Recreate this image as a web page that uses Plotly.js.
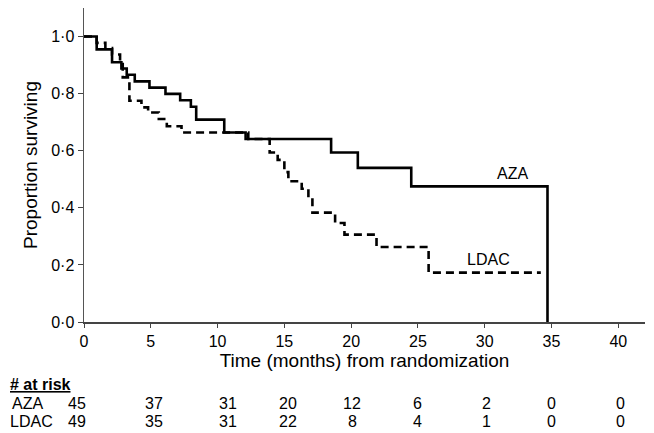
<!DOCTYPE html>
<html>
<head>
<meta charset="utf-8">
<script src="https://cdn.plot.ly/plotly-3.0.1.min.js"></script>
<style>html,body{margin:0;padding:0;background:#fff;}#chart{width:654px;height:433px;}</style>
</head>
<body>
<div id="chart"></div>
<script>
// Kaplan-Meier step data
const azaTime = [0, 0.95, 2.1, 2.8, 3.2, 3.8, 4.9, 6.1, 7.2, 8.0, 8.4, 10.5, 12.1, 18.5, 20.5, 24.5, 34.7, 34.7];
const azaSurv = [1.0, 0.955, 0.91, 0.888, 0.866, 0.843, 0.821, 0.799, 0.777, 0.754, 0.709, 0.664, 0.641, 0.594, 0.54, 0.475, 0.475, 0.0];
const ldacTime = [0, 0.95, 1.6, 2.1, 2.7, 2.9, 3.4, 4.3, 4.8, 5.6, 6.2, 7.3, 12.3, 13.9, 14.5, 15.0, 15.3, 16.3, 16.8, 17.1, 18.8, 19.5, 21.9, 25.8, 34.2];
const ldacSurv = [1.0, 0.978, 0.96, 0.937, 0.915, 0.857, 0.775, 0.752, 0.734, 0.711, 0.686, 0.664, 0.641, 0.594, 0.568, 0.525, 0.493, 0.467, 0.437, 0.383, 0.347, 0.306, 0.263, 0.173, 0.173];

const xTicks = [0, 5, 10, 15, 20, 25, 30, 35, 40];
const yTicks = [0, 0.2, 0.4, 0.6, 0.8, 1.0];
const yTickText = ['0·0', '0·2', '0·4', '0·6', '0·8', '1·0'];

const riskTimes = [0, 5, 10, 15, 20, 25, 30, 35, 40];
const azaRisk = [45, 37, 31, 20, 12, 6, 2, 0, 0];
const ldacRisk = [49, 35, 31, 22, 8, 4, 1, 0, 0];
const riskShift = [-7, 3, 10, 4, 1, 0, 2, 0, 2];

const FONT = 'Liberation Sans, Arial, sans-serif';

const traces = [
  {x: azaTime, y: azaSurv, mode: 'lines', line: {shape: 'hv', color: '#000', width: 2.6}, name: 'AZA', hoverinfo: 'skip'},
  {x: ldacTime, y: ldacSurv, mode: 'lines', line: {shape: 'hv', color: '#000', width: 2.6, dash: '8px,5px'}, name: 'LDAC', hoverinfo: 'skip'}
];

const annotations = [
  {x: 32.1, y: 0.521, xref: 'x', yref: 'y', text: 'AZA', showarrow: false, font: {family: FONT, size: 16, color: '#000'}},
  {x: 30.3, y: 0.219, xref: 'x', yref: 'y', text: 'LDAC', showarrow: false, font: {family: FONT, size: 16, color: '#000'}},
  {x: 8, y: 384, xref: 'paper', yref: 'paper', text: '<b><u># at risk</u></b>', showarrow: false, font: {family: FONT, size: 16, color: '#000'}, xanchor: 'left', yanchor: 'middle'},
  {text: 'AZA', x: 10, y: 403, showarrow: false, font: {family: FONT, size: 16, color: '#000'}, xanchor: 'left', yanchor: 'middle'},
  {text: 'LDAC', x: 8, y: 421, showarrow: false, font: {family: FONT, size: 16, color: '#000'}, xanchor: 'left', yanchor: 'middle'}
];
// convert pixel-based label positions to paper coords
const L = 84, R = 9, T = 8, B = 111, W = 654, H = 433;
const pw = W - L - R, ph = H - T - B;
function px2paperX(px) { return (px - L) / pw; }
function py2paperY(py) { return (H - B - py) / ph; }
for (let i = 2; i < annotations.length; i++) {
  annotations[i].xref = 'paper'; annotations[i].yref = 'paper';
  annotations[i].x = px2paperX(annotations[i].x);
  annotations[i].y = py2paperY(annotations[i].y);
}
riskTimes.forEach((t, i) => {
  annotations.push({x: t, y: py2paperY(403), xref: 'x', yref: 'paper', text: String(azaRisk[i]), showarrow: false, xshift: riskShift[i], font: {family: FONT, size: 16, color: '#000'}, yanchor: 'middle'});
  annotations.push({x: t, y: py2paperY(421), xref: 'x', yref: 'paper', text: String(ldacRisk[i]), showarrow: false, xshift: riskShift[i], font: {family: FONT, size: 16, color: '#000'}, yanchor: 'middle'});
});

const layout = {
  width: W, height: H,
  margin: {l: L, r: R, t: T, b: B, pad: 0},
  paper_bgcolor: '#fff', plot_bgcolor: '#fff',
  showlegend: false,
  font: {family: FONT, size: 16, color: '#000'},
  xaxis: {
    range: [0, 42], tickvals: xTicks, ticktext: xTicks.map(String),
    ticks: 'outside', ticklen: 4, tickwidth: 1, tickcolor: '#444',
    showline: true, linecolor: '#444', linewidth: 1.5, showgrid: false, zeroline: false,
    tickfont: {family: FONT, size: 16, color: '#000'},
    title: {text: 'Time (months) from randomization', font: {family: FONT, size: 19, color: '#000'}, standoff: 4}
  },
  yaxis: {
    range: [0, 1.1], tickvals: yTicks, ticktext: yTickText,
    ticks: 'outside', ticklen: 5, tickwidth: 1, tickcolor: '#444',
    showline: true, linecolor: '#555', linewidth: 1.5, showgrid: false, zeroline: false,
    tickfont: {family: FONT, size: 16, color: '#000'},
    title: {text: 'Proportion surviving', font: {family: FONT, size: 19, color: '#000'}, standoff: 8}
  },
  annotations: annotations
};

Plotly.newPlot('chart', traces, layout, {staticPlot: true, displayModeBar: false});
</script>
</body>
</html>
